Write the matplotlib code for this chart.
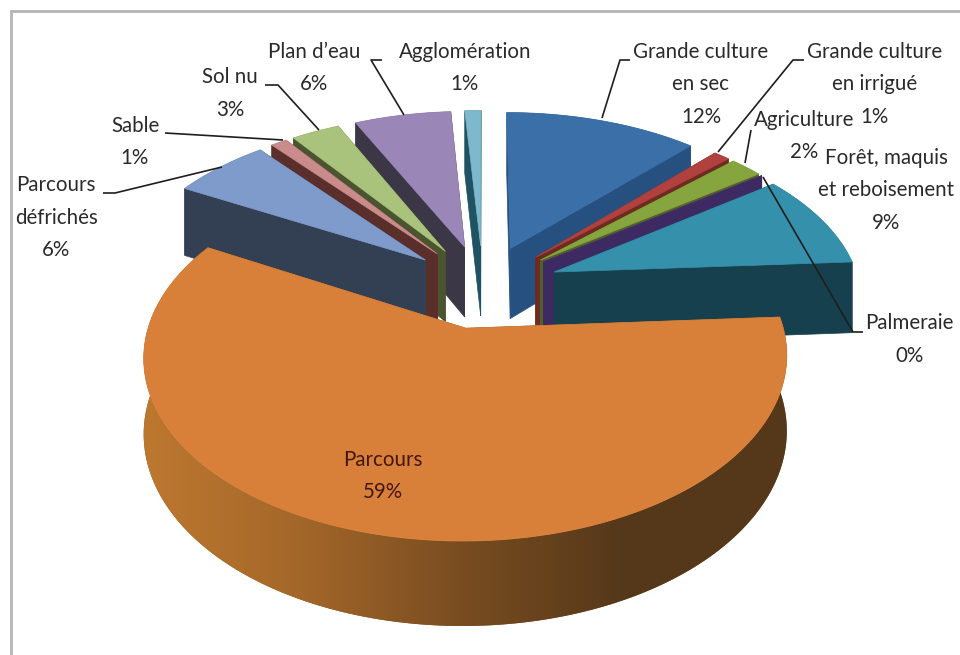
# Exploded 3D pie of land use, built by hand from wedges projected with a simple perspective
import numpy as np
import matplotlib
matplotlib.use('Agg')
import matplotlib.pyplot as plt
from matplotlib.patches import Polygon
from matplotlib.colors import LinearSegmentedColormap

plt.rcParams['font.family'] = ['Lato', 'DejaVu Sans']

# ----------------------------
# Data
# ----------------------------
labels = ['Grande culture\nen sec', 'Grande culture\nen irrigué', 'Agriculture', 'Palmeraie',
          'Forêt, maquis\net reboisement', 'Parcours', 'Parcours\ndéfrichés', 'Sable',
          'Sol nu', 'Plan d’eau', 'Agglomération']
values = [12, 1, 2, 0, 9, 59, 6, 1, 3, 6, 1]

top_colors = ['#3a6fa8', '#b0413e', '#86a53e', '#46306e', '#3590ab', '#d8803a',
              '#7f9bcb', '#c98c8a', '#a9c27c', '#9b86b8', '#7db8cc']
wall_colors = ['#25507f', '#6e2c20', '#53602c', '#3d2a62', '#17404e', '#8a5526',
               '#333f52', '#5a2e2b', '#4a5530', '#3b3747', '#1f5364']

# back to front
draw_order = [10, 0, 9, 8, 1, 7, 2, 3, 6, 4, 5]

# where each label goes (centre x, first line y) and its leader line, in figure pixels
label_pos = [(701, 52), (875, 52), (804, 120), (909, 323), (886, 158), (383, 460),
             (56, 185), (135, 126), (230, 77), (314, 52), (465, 52)]
leaders = {
    0: [(630, 60), (620, 60), (602, 118)],
    1: [(804, 60), (793, 60), (718, 152)],
    2: [(751, 130), (745, 163)],
    3: [(863, 332), (853, 332), (763, 177)],
    6: [(103, 193), (115, 193), (222, 167)],
    7: [(165, 133), (283, 140)],
    8: [(265, 85), (278, 85), (319, 130)],
    9: [(382, 60), (371, 60), (404, 115)],
}

# projection settings
cx, cy = 483, 286
radius = 306
squash = 0.545
persp = 0.15
thickness = 72
explode = 0.25

big_wall = LinearSegmentedColormap.from_list('big_wall', ['#c07a30', '#a5682a', '#7a4d20', '#55381a', '#55381a'])


def project(px, py, z=0.0):
    f = 1 / (1 + persp * py)
    return cx + radius * px * f, cy - radius * squash * py * f + thickness * z * f ** 0.8


fig = plt.figure(figsize=(9.6, 6.55), dpi=100)
ax = fig.add_axes([0, 0, 1, 1])

fracs = np.array(values) / sum(values)
starts = np.concatenate([[0], np.cumsum(fracs)[:-1]]) * 2 * np.pi
ends = starts + fracs * 2 * np.pi


def draw_slice(i):
    a1, a2 = starts[i], ends[i]
    mid = (a1 + a2) / 2
    ox, oy = explode * np.sin(mid), explode * np.cos(mid)
    arc = np.linspace(a1, a2, max(2, int((a2 - a1) * 60)))
    ex, ey = ox + np.sin(arc), oy + np.cos(arc)

    # radial side walls
    for a in (a1, a2):
        qx, qy = ox + np.sin(a), oy + np.cos(a)
        pts = [project(ox, oy), project(qx, qy), project(qx, qy, 1), project(ox, oy, 1)]
        ax.add_patch(Polygon(pts, closed=True, fc=wall_colors[i], ec=wall_colors[i], lw=0.5))

    # outer wall, the big slice gets a left to right shade
    upper = [project(x, y) for x, y in zip(ex, ey)]
    lower = [project(x, y, 1) for x, y in zip(ex, ey)]
    wall = Polygon(upper + lower[::-1], closed=True, fc=wall_colors[i], ec='none')
    ax.add_patch(wall)
    if i == 5:
        grad = np.linspace(0, 1, 256).reshape(1, -1)
        im = ax.imshow(grad, cmap=big_wall, extent=[125, 790, 640, 250], aspect='auto', zorder=1)
        im.set_clip_path(wall)

    # top face
    pts = [project(ox, oy)] + upper
    ax.add_patch(Polygon(pts, closed=True, fc=top_colors[i], ec=top_colors[i], lw=0.5))


for i in draw_order:
    draw_slice(i)

ax.set_xlim(0, 960)
ax.set_ylim(655, 0)
ax.axis('off')

# chart frame, only top and left edges are on the canvas
ax.plot([11, 11, 960], [655, 11, 11], color='#b4b4b4', lw=2, solid_joinstyle='miter')

for i, line in leaders.items():
    xs, ys = zip(*line)
    ax.plot(xs, ys, color='#1e1e1e', lw=1.2, solid_capstyle='butt')

for i, (lab, val) in enumerate(zip(labels, values)):
    x, y = label_pos[i]
    col = '#43170f' if i == 5 else '#2a2a2a'
    for n, txt in enumerate(lab.split('\n') + [f'{val}%']):
        ax.text(x, y + n * 32.5, txt, ha='center', va='center', fontsize=14.8, color=col)

fig.savefig('out.png', dpi=100, facecolor='white')
